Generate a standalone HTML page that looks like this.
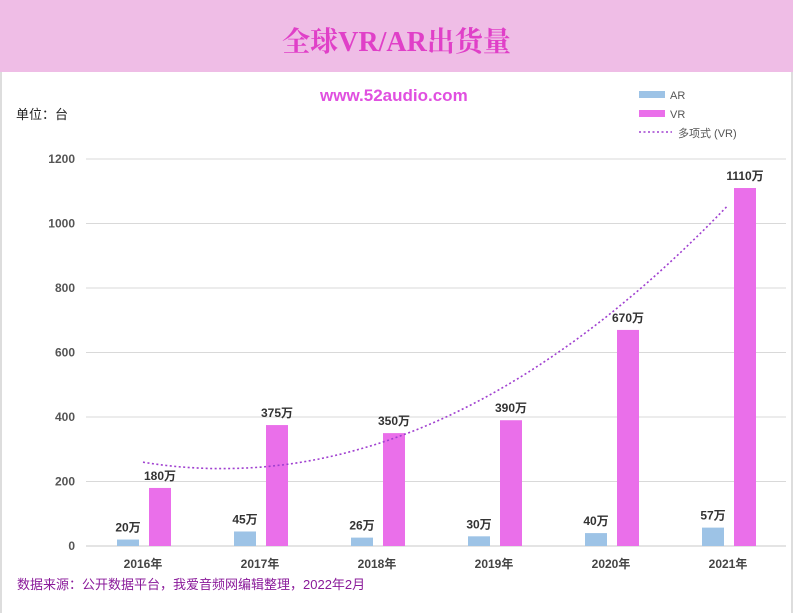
<!DOCTYPE html>
<html><head><meta charset="utf-8"><style>
body{margin:0;width:793px;height:613px;background:#fff;font-family:"Liberation Sans","Noto Sans CJK SC",sans-serif;overflow:hidden;position:relative}
.t{position:absolute}
</style></head><body>
<div style="position:absolute;left:0;top:0;width:793px;height:72px;background:#efbde6"></div>
<div class="t" style="left:0;width:793px;top:20px;text-align:center;font-size:28px;font-weight:bold;color:#e040c8;font-family:'Liberation Serif','Noto Serif CJK SC',serif">全球VR/AR出货量</div>
<div style="position:absolute;left:0;top:72px;width:2px;height:541px;background:#ddd"></div>
<div style="position:absolute;right:0;top:72px;width:2px;height:541px;background:#ddd"></div>
<div class="t" style="left:320px;top:86px;font-size:17px;font-weight:bold;color:#e050e0">www.52audio.com</div>
<div class="t" style="left:16px;top:104px;font-size:13px;color:#222">单位：台</div>
<div class="t" style="left:17px;top:574px;font-size:13px;color:#8a1a9a">数据来源：公开数据平台，我爱音频网编辑整理，2022年2月</div>
<svg id="c" width="793" height="613" style="position:absolute;left:0;top:0"></svg>
<script>
const categories=["2016年","2017年","2018年","2019年","2020年","2021年"];
const arValues=[20,45,26,30,40,57];
const vrValues=[180,375,350,390,670,1110];
const yTicks=[0,200,400,600,800,1000,1200];
const NS="http://www.w3.org/2000/svg";
const svg=document.getElementById('c');
const y0=546,y1=159,yMax=1200;
const y=v=>y0-(v/yMax)*(y0-y1);
const x=i=>143+i*117;
function mk(tag,a,parent){const e=document.createElementNS(NS,tag);for(const k in a)e.setAttribute(k,a[k]);(parent||svg).appendChild(e);return e;}
yTicks.forEach(t=>{
 const g=mk('line',{x1:86,x2:786,y1:y(t),y2:y(t),stroke:t===0?'#c8c8c8':'#d9d9d9','stroke-width':1});
 
 
 const l=mk('text',{x:75,y:y(t)+4,'text-anchor':'end','font-size':12,'font-weight':'bold',fill:'#555'});
 l.textContent=t;
 
 
});
categories.forEach((c,i)=>{
 const a=mk('rect',{x:x(i)-26,y:y(arValues[i]),width:22,height:y0-y(arValues[i]),fill:'#9dc3e6'});
 
 
 const v=mk('rect',{x:x(i)+6,y:y(vrValues[i]),width:22,height:y0-y(vrValues[i]),fill:'#ea6fea'});
 
 
 const la=mk('text',{x:x(i)-15,y:y(arValues[i])-8,'text-anchor':'middle','font-size':12,'font-weight':'bold',fill:'#333'});
 la.textContent=arValues[i]+'万';
 
 
 const lv=mk('text',{x:x(i)+17,y:y(vrValues[i])-8,'text-anchor':'middle','font-size':12,'font-weight':'bold',fill:'#333'});
 lv.textContent=vrValues[i]+'万';
 
 
 const cl=mk('text',{x:x(i),y:568,'text-anchor':'middle','font-size':12,'font-weight':'bold',fill:'#444'});
 cl.textContent=c;
 
 
});
(function(){
 const n=vrValues.length;let S=[0,0,0,0,0],T=[0,0,0];
 for(let i=0;i<n;i++){const t=i+1;for(let k=0;k<5;k++)S[k]+=Math.pow(t,k);for(let k=0;k<3;k++)T[k]+=vrValues[i]*Math.pow(t,k);}
 const M=[[S[0],S[1],S[2],T[0]],[S[1],S[2],S[3],T[1]],[S[2],S[3],S[4],T[2]]];
 for(let i=0;i<3;i++){for(let j=i+1;j<3;j++){const f=M[j][i]/M[i][i];for(let k=i;k<4;k++)M[j][k]-=f*M[i][k];}}
 const c=[0,0,0];for(let i=2;i>=0;i--){let s=M[i][3];for(let k=i+1;k<3;k++)s-=M[i][k]*c[k];c[i]=s/M[i][i];}
 let d='';for(let s=0;s<=50;s++){const t=1+5*s/50;const v=c[0]+c[1]*t+c[2]*t*t;d+=(s?'L':'M')+x(t-1).toFixed(1)+','+y(v).toFixed(1);}
 const p=mk('path',{d:d,fill:'none',stroke:'#a040d0','stroke-width':1.6,'stroke-dasharray':'2,2.5'});
 
 
})();
const lg=mk('g',{});


const r1=mk('rect',{x:639,y:91,width:26,height:7,fill:'#9dc3e6'},lg);


const t1=mk('text',{x:670,y:99,'font-size':11,fill:'#555'},lg);t1.textContent='AR';


const r2=mk('rect',{x:639,y:110,width:26,height:7,fill:'#ea6fea'},lg);


const t2=mk('text',{x:670,y:118,'font-size':11,fill:'#555'},lg);t2.textContent='VR';


const l3=mk('line',{x1:639,x2:672,y1:132,y2:132,stroke:'#a040d0','stroke-width':1.6,'stroke-dasharray':'2,2.5'},lg);


const t3=mk('text',{x:678,y:137,'font-size':11,fill:'#555'},lg);t3.textContent='多项式 (VR)';


</script>
</body></html>
